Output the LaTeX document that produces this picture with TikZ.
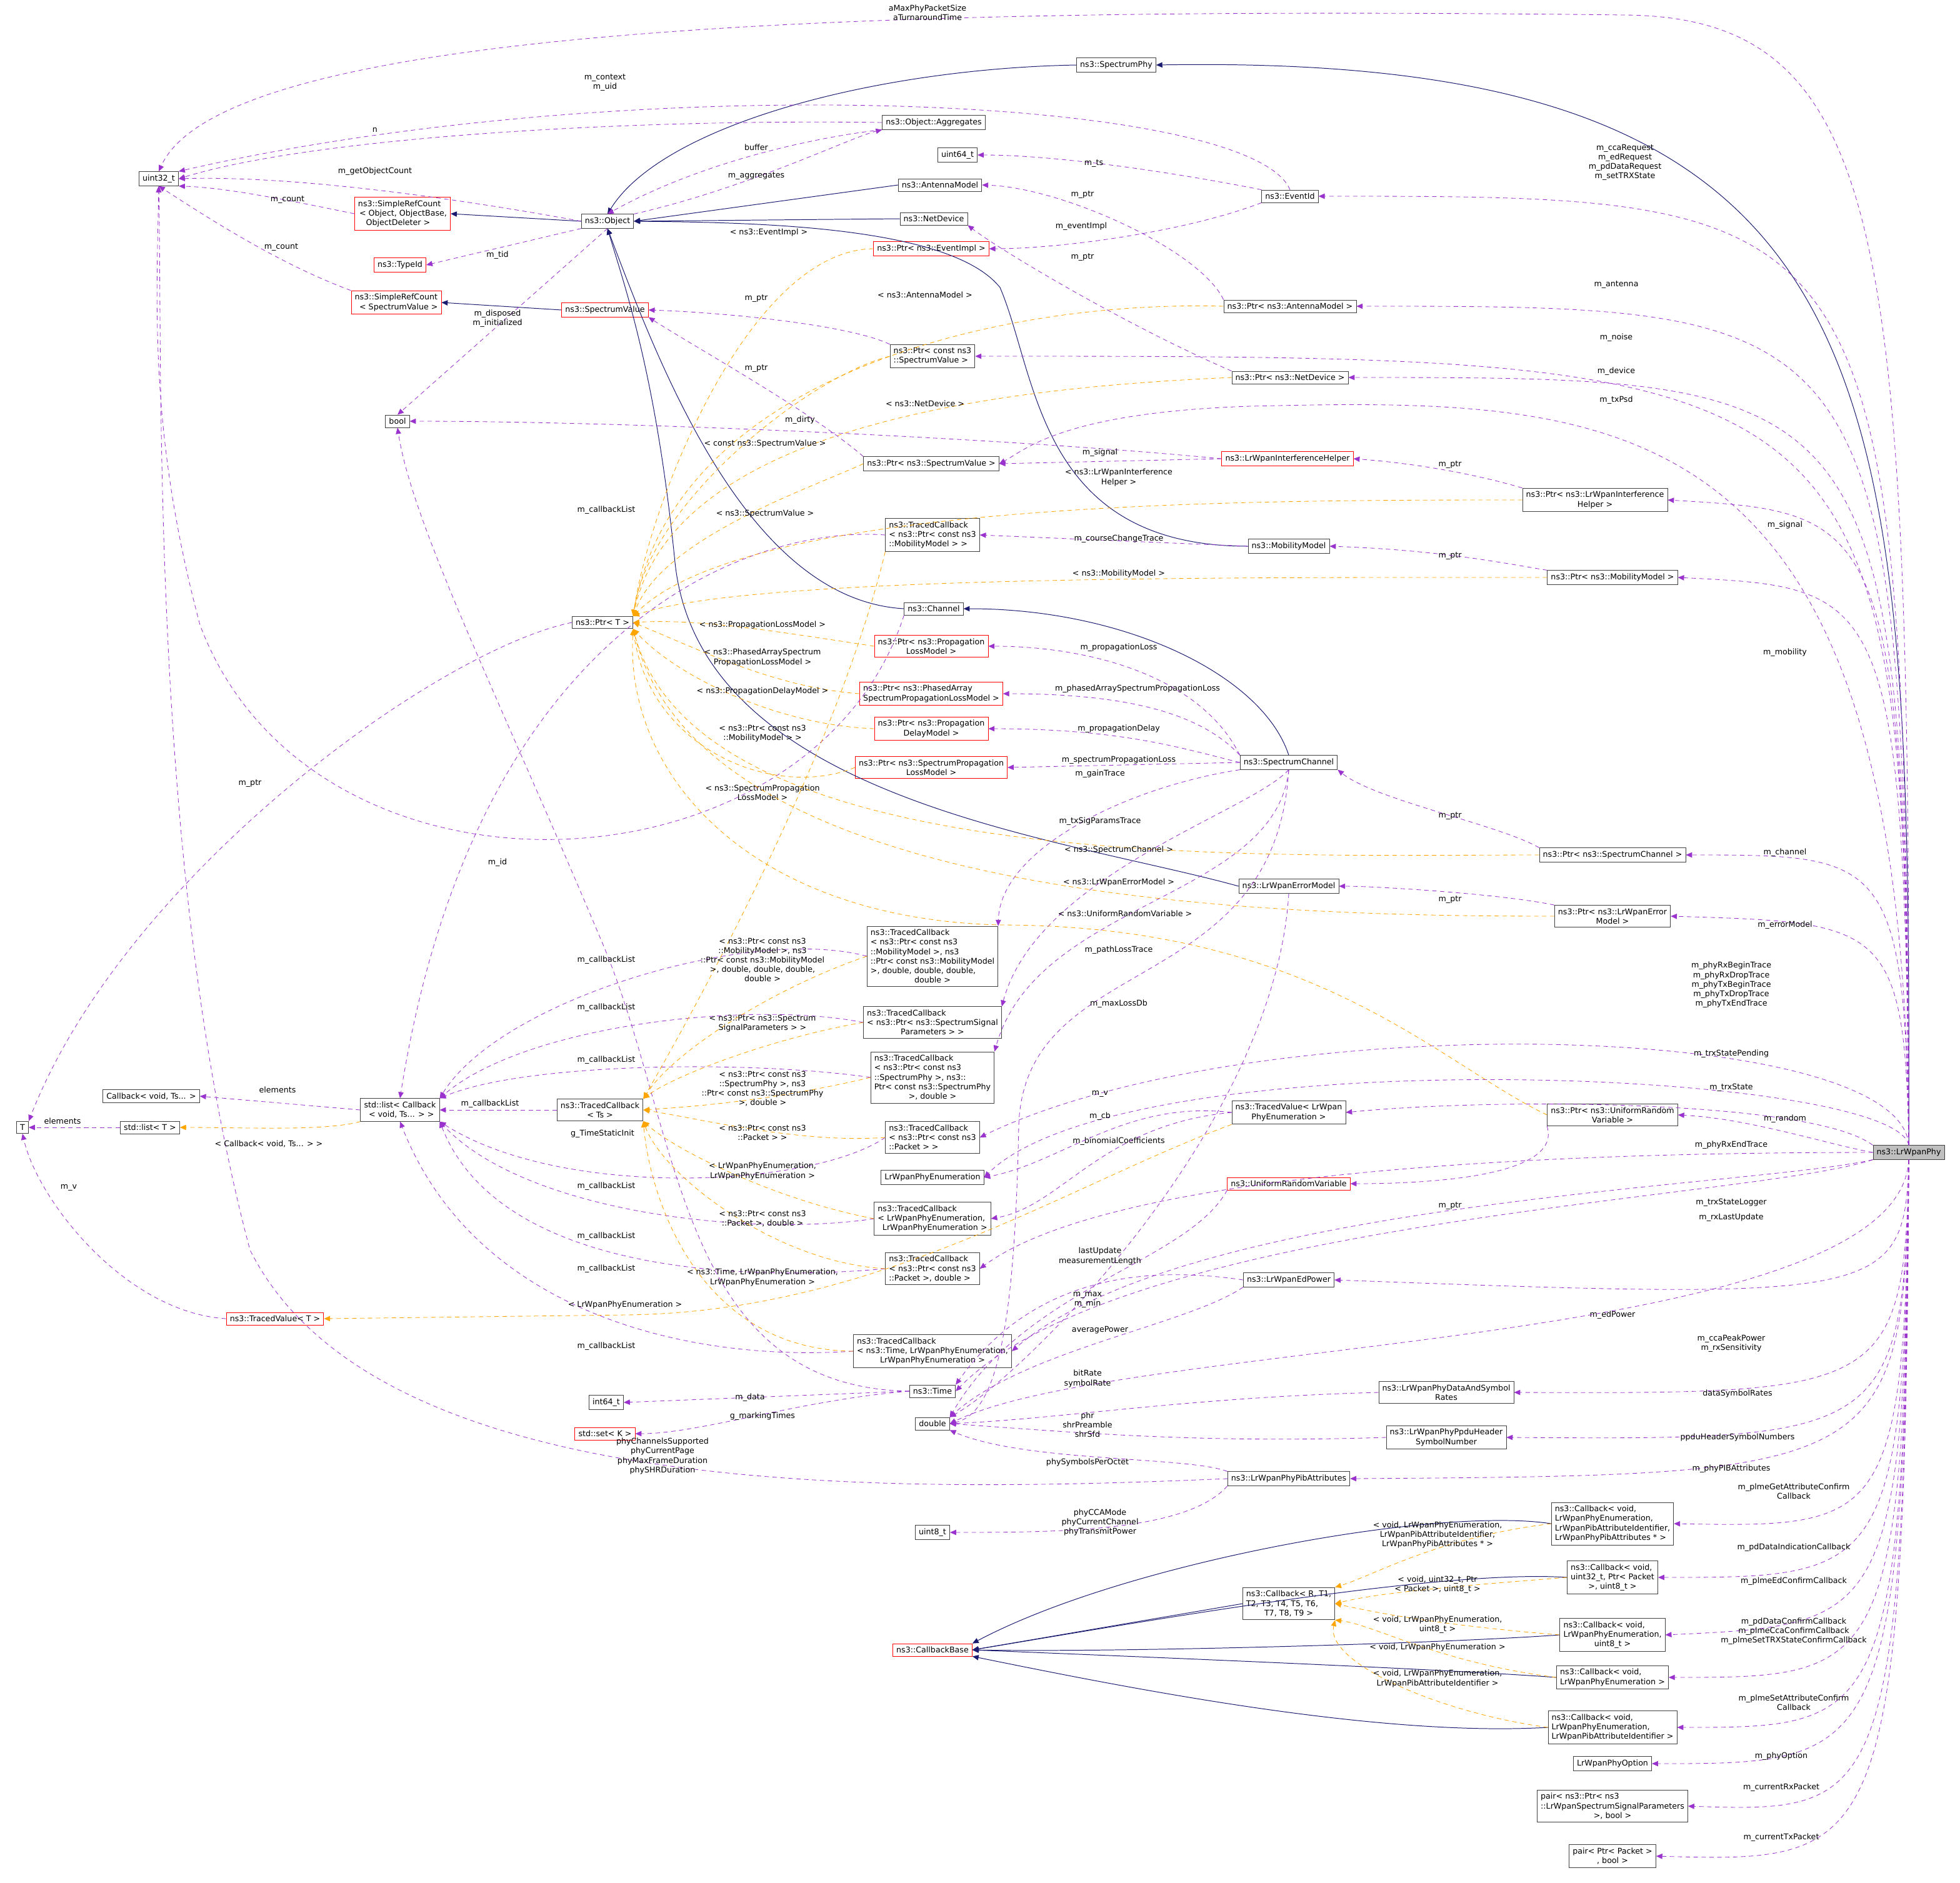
\documentclass[tikz,border=0pt]{standalone}
\usepackage{fontspec}
\setmainfont{DejaVu Sans}
\usetikzlibrary{arrows.meta}
\definecolor{usec}{HTML}{9A32CD}
\definecolor{inhc}{HTML}{191970}
\definecolor{tmpc}{HTML}{FFA500}
\tikzset{
 cls/.style={draw=black!75,fill=white,inner xsep=4pt,inner ysep=3.6pt,align=left,line width=0.6pt},
 rcls/.style={cls,draw=red},
 use/.style={draw=usec,dashed,dash pattern=on 5pt off 4pt,line width=0.6pt,-{Triangle[length=7pt,width=6pt]}},
 inh/.style={draw=inhc,line width=0.7pt,-{Triangle[length=7pt,width=6pt]}},
 tpl/.style={draw=tmpc,dashed,dash pattern=on 5pt off 4pt,line width=0.6pt,-{Triangle[length=7pt,width=6pt]}},
 lbl/.style={align=center,inner sep=0pt}
}
\newcommand\LrUp[4]{\draw[use] (Lr.north) .. controls (1524,#2) and (1505,#2) .. (#1.east) node[lbl] at (#3) {#4};}
\newcommand\LrDn[4]{\draw[use] (Lr.south) .. controls (1524,#2) and (1505,#2) .. (#1.east) node[lbl] at (#3) {#4};}
\begin{document}
\begin{tikzpicture}[x=0.5mm,y=-0.5mm,font=\fontsize{9}{10.8}\selectfont]
\useasboundingbox (0,0) rectangle (1568,1506);
% nodes
\node[cls] (uint32) at (127,143) {uint32\_t};
\node[cls] (SpectrumPhy) at (893,52) {ns3::SpectrumPhy};
\node[cls] (ObjAgg) at (747,98) {ns3::Object::Aggregates};
\node[cls] (uint64) at (766,124) {uint64\_t};
\node[cls] (EventId) at (1032,157) {ns3::EventId};
\node[cls] (AntennaModel) at (752,148) {ns3::AntennaModel};
\node[cls] (Object) at (486,177) {ns3::Object};
\node[cls] (NetDevice) at (747,175) {ns3::NetDevice};
\node[rcls] (SRC1) at (322,171) {ns3::SimpleRefCount\\\,< Object, ObjectBase,\\\quad ObjectDeleter >};
\node[rcls] (TypeId) at (320,212) {ns3::TypeId};
\node[rcls] (PtrEvent) at (745,199) {ns3::Ptr< ns3::EventImpl >};
\node[rcls] (SRC2) at (317,242) {ns3::SimpleRefCount\\\; < SpectrumValue >};
\node[rcls] (SpectrumValue) at (484,248) {ns3::SpectrumValue};
\node[cls] (PtrAntenna) at (1032,245) {ns3::Ptr< ns3::AntennaModel >};
\node[cls] (PtrConstSV) at (746,285) {ns3::Ptr< const ns3\\::SpectrumValue >};
\node[cls] (PtrNetDev) at (1032,302) {ns3::Ptr< ns3::NetDevice >};
\node[cls] (bool) at (318,337) {bool};
\node[cls] (PtrSV) at (745,371) {ns3::Ptr< ns3::SpectrumValue >};
\node[rcls] (LrIH) at (1030,367) {ns3::LrWpanInterferenceHelper};
\node[cls] (PtrLrIH) at (1276,400) {ns3::Ptr< ns3::LrWpanInterference\\\hfil Helper >};
\node[cls] (TCMob) at (746,428) {ns3::TracedCallback\\< ns3::Ptr< const ns3\\::MobilityModel > >};
\node[cls] (MobilityModel) at (1031,437) {ns3::MobilityModel};
\node[cls] (PtrMob) at (1290,462) {ns3::Ptr< ns3::MobilityModel >};
\node[cls] (Channel) at (747,487) {ns3::Channel};
\node[cls] (PtrT) at (482,498) {ns3::Ptr< T >};
\node[rcls] (PtrPLM) at (745,517) {ns3::Ptr< ns3::Propagation\\\hfil LossModel >};
\node[rcls] (PtrPA) at (745,555) {ns3::Ptr< ns3::PhasedArray\\SpectrumPropagationLossModel >};
\node[rcls] (PtrPDM) at (745,583) {ns3::Ptr< ns3::Propagation\\\hfil DelayModel >};
\node[rcls] (PtrSPLM) at (745,614) {ns3::Ptr< ns3::SpectrumPropagation\\\hfil LossModel >};
\node[cls] (SpectrumChannel) at (1031,610) {ns3::SpectrumChannel};
\node[cls] (PtrSC) at (1290,684) {ns3::Ptr< ns3::SpectrumChannel >};
\node[cls] (LrEM) at (1031,709) {ns3::LrWpanErrorModel};
\node[cls] (PtrLrEM) at (1290,733) {ns3::Ptr< ns3::LrWpanError\\\hfil Model >};
\node[cls] (TCMob2) at (746,765) {ns3::TracedCallback\\< ns3::Ptr< const ns3\\::MobilityModel >, ns3\\::Ptr< const ns3::MobilityModel\\ >, double, double, double,\\\hfil double >};
\node[cls] (TCSSP) at (746,818) {ns3::TracedCallback\\< ns3::Ptr< ns3::SpectrumSignal\\\hfil Parameters > >};
\node[cls] (TCSP) at (746,862) {ns3::TracedCallback\\< ns3::Ptr< const ns3\\::SpectrumPhy >, ns3::\\Ptr< const ns3::SpectrumPhy\\\hfil >, double >};
\node[cls] (CallbackVoid) at (121,877) {Callback< void, Ts... >};
\node[cls] (stdlistCb) at (320,888) {std::list< Callback\\\; < void, Ts... > >};
\node[cls] (TCTs) at (480,888) {ns3::TracedCallback\\\hfil < Ts >};
\node[cls] (TCPkt) at (746,910) {ns3::TracedCallback\\< ns3::Ptr< const ns3\\::Packet > >};
\node[cls] (TVLr) at (1031,890) {ns3::TracedValue< LrWpan\\\hfil PhyEnumeration >};
\node[cls] (PtrURV) at (1290,892) {ns3::Ptr< ns3::UniformRandom\\\hfil Variable >};
\node[cls] (T) at (18,902) {T};
\node[cls] (stdlistT) at (120,902) {std::list< T >};
\node[cls] (LrPhyEnum) at (746,942) {LrWpanPhyEnumeration};
\node[rcls] (URV) at (1031,947) {ns3::UniformRandomVariable};
\node[cls,fill=black!25] (Lr) at (1527,922) {ns3::LrWpanPhy};
\node[cls] (TCEnum) at (746,975) {ns3::TracedCallback\\< LrWpanPhyEnumeration,\\\; LrWpanPhyEnumeration >};
\node[cls] (TCPktD) at (746,1015) {ns3::TracedCallback\\< ns3::Ptr< const ns3\\::Packet >, double >};
\node[cls] (LrEdP) at (1031,1024) {ns3::LrWpanEdPower};
\node[rcls] (TVT) at (220,1055) {ns3::TracedValue< T >};
\node[cls] (TCTime) at (746,1081) {ns3::TracedCallback\\< ns3::Time, LrWpanPhyEnumeration,\\\hfil LrWpanPhyEnumeration >};
\node[cls] (Time) at (746,1113) {ns3::Time};
\node[cls] (int64) at (485,1122) {int64\_t};
\node[cls] (double) at (746,1139) {double};
\node[cls] (LrDSR) at (1157,1114) {ns3::LrWpanPhyDataAndSymbol\\\hfil Rates};
\node[rcls] (stdset) at (484,1147) {std::set< K >};
\node[cls] (LrPPH) at (1157,1150) {ns3::LrWpanPhyPpduHeader\\\hfil SymbolNumber};
\node[cls] (LrPib) at (1031,1183) {ns3::LrWpanPhyPibAttributes};
\node[cls] (uint8) at (746,1226) {uint8\_t};
\node[cls] (CbGet) at (1290,1219) {ns3::Callback< void,\\LrWpanPhyEnumeration,\\LrWpanPibAttributeIdentifier,\\LrWpanPhyPibAttributes * >};
\node[cls] (CbPD) at (1290,1262) {ns3::Callback< void,\\uint32\_t, Ptr< Packet\\\hfil >, uint8\_t >};
\node[cls] (CbR) at (1031,1283) {ns3::Callback< R, T1,\\T2, T3, T4, T5, T6,\\\hfil T7, T8, T9 >};
\node[rcls] (CbBase) at (746,1320) {ns3::CallbackBase};
\node[cls] (CbEd) at (1290,1308) {ns3::Callback< void,\\LrWpanPhyEnumeration,\\\hfil uint8\_t >};
\node[cls] (CbE) at (1290,1342) {ns3::Callback< void,\\LrWpanPhyEnumeration >};
\node[cls] (CbSet) at (1290,1382) {ns3::Callback< void,\\LrWpanPhyEnumeration,\\LrWpanPibAttributeIdentifier >};
\node[cls] (LrOpt) at (1290,1411) {LrWpanPhyOption};
\node[cls] (pairSSP) at (1290,1445) {pair< ns3::Ptr< ns3\\::LrWpanSpectrumSignalParameters\\\hfil >, bool >};
\node[cls] (pairPkt) at (1290,1485) {pair< Ptr< Packet >\\\hfil , bool >};

% inheritance
\draw[inh] (Lr.north) .. controls (1528,300) and (1522,42) .. (SpectrumPhy.east);
\draw[inh] (SpectrumPhy.west) .. controls (700,55) and (530,100) .. (Object.north);
\draw[inh] (AntennaModel.west) -- (Object.east);
\draw[inh] (NetDevice.west) -- (Object.east);
\draw[inh] (Object.west) -- (SRC1.east);
\draw[inh] (SpectrumValue.west) -- (SRC2.east);
\draw[inh] (Channel.west) .. controls (600,480) and (530,300) .. (Object.south);
\draw[inh] (MobilityModel.west) .. controls (830,437) and (830,300) .. (800,230) .. controls (760,180) and (600,178) .. (Object.east);
\draw[inh] (SpectrumChannel.north) .. controls (1010,540) and (900,487) .. (Channel.east);
\draw[inh] (LrEM.west) .. controls (850,670) and (560,640) .. (540,450) .. controls (525,300) and (500,230) .. (Object.south);
\draw[inh] (CbGet.west) .. controls (1150,1205) and (900,1250) .. (CbBase.north east);
\draw[inh] (CbPD.west) .. controls (1150,1255) and (900,1300) .. (CbBase.east);
\draw[inh] (CbR.west) -- (CbBase.east);
\draw[inh] (CbEd.west) .. controls (1150,1315) and (900,1322) .. (CbBase.east);
\draw[inh] (CbE.west) .. controls (1150,1335) and (900,1325) .. (CbBase.east);
\draw[inh] (CbSet.west) .. controls (1100,1390) and (900,1350) .. (CbBase.south east);

% usage from LrWpanPhy
\draw[use] (Lr.north) .. controls (1528,200) and (1515,14) .. (1300,12) .. controls (700,5) and (180,20) .. (uint32.north) node[lbl] at (742,10) {aMaxPhyPacketSize\\aTurnaroundTime};
\LrUp{EventId}{157}{1300,130}{m\_ccaRequest\\m\_edRequest\\m\_pdDataRequest\\m\_setTRXState}
\LrUp{PtrAntenna}{245}{1293,228}{m\_antenna}
\LrUp{PtrConstSV}{285}{1293,270}{m\_noise}
\LrUp{PtrNetDev}{302}{1293,297}{m\_device}
\draw[use] (Lr.north) .. controls (1524,320) and (1300,318) .. (1000,325) .. controls (850,330) and (820,360) .. (PtrSV.east) node[lbl] at (1293,320) {m\_txPsd};
\LrUp{PtrLrIH}{410}{1428,420}{m\_signal}
\LrUp{PtrMob}{470}{1428,522}{m\_mobility}
\LrUp{PtrSC}{684}{1428,682}{m\_channel}
\LrUp{PtrLrEM}{738}{1428,740}{m\_errorModel}
\draw[use] (Lr.north) .. controls (1520,815) and (1000,805) .. (TCPkt.east) node[lbl] at (1385,788) {m\_phyRxBeginTrace\\m\_phyRxDropTrace\\m\_phyTxBeginTrace\\m\_phyTxDropTrace\\m\_phyTxEndTrace};
\draw[use] (Lr.north) .. controls (1515,855) and (900,830) .. (LrPhyEnum.east) node[lbl] at (1385,843) {m\_trxStatePending};
\draw[use] (Lr.north west) .. controls (1450,880) and (1200,878) .. (TVLr.east) node[lbl] at (1385,870) {m\_trxState};
\draw[use] (Lr.west) .. controls (1460,915) and (1400,895) .. (PtrURV.east) node[lbl] at (1428,895) {m\_random};
\draw[use] (Lr.west) .. controls (1300,922) and (900,930) .. (TCPktD.east) node[lbl] at (1385,916) {m\_phyRxEndTrace};
\draw[use] (Lr.south west) .. controls (1400,950) and (950,960) .. (TCTime.east) node[lbl] at (1385,962) {m\_trxStateLogger};
\draw[use] (Lr.south west) .. controls (1400,960) and (900,975) .. (Time.east) node[lbl] at (1385,974) {m\_rxLastUpdate};
\LrDn{LrEdP}{1040}{1290,1052}{m\_edPower}
\draw[use] (Lr.south) .. controls (1520,1080) and (900,1070) .. (double.east) node[lbl] at (1385,1075) {m\_ccaPeakPower\\m\_rxSensitivity};
\LrDn{LrDSR}{1115}{1390,1115}{dataSymbolRates}
\LrDn{LrPPH}{1152}{1390,1150}{ppduHeaderSymbolNumbers}
\LrDn{LrPib}{1180}{1385,1175}{m\_phyPIBAttributes}
\LrDn{CbGet}{1222}{1435,1193}{m\_plmeGetAttributeConfirm\\Callback}
\LrDn{CbPD}{1262}{1435,1238}{m\_pdDataIndicationCallback}
\LrDn{CbEd}{1300}{1435,1265}{m\_plmeEdConfirmCallback}
\LrDn{CbE}{1342}{1435,1305}{m\_pdDataConfirmCallback\\m\_plmeCcaConfirmCallback\\m\_plmeSetTRXStateConfirmCallback}
\LrDn{CbSet}{1382}{1435,1362}{m\_plmeSetAttributeConfirm\\Callback}
\LrDn{LrOpt}{1411}{1425,1405}{m\_phyOption}
\LrDn{pairSSP}{1450}{1425,1430}{m\_currentRxPacket}
\LrDn{pairPkt}{1490}{1425,1470}{m\_currentTxPacket}

% other usage
\draw[use] (Object.west) .. controls (400,165) and (250,140) .. (uint32.east) node[lbl] at (300,137) {m\_getObjectCount};
\draw[use] (SRC1.west) .. controls (230,160) and (180,150) .. (uint32.south east) node[lbl] at (230,160) {m\_count};
\draw[use] (SRC2.north west) .. controls (220,210) and (160,170) .. (uint32.south) node[lbl] at (225,198) {m\_count};
\draw[use] (Object.south west) -- (TypeId.east) node[lbl] at (398,204) {m\_tid};
\draw[use] (Object.south) -- (bool.north) node[lbl] at (398,255) {m\_disposed\\m\_initialized};
\draw[use] (ObjAgg.west) .. controls (500,95) and (250,110) .. (uint32.east) node[lbl] at (300,104) {n};
\draw[use] (EventId.north) .. controls (1000,75) and (500,55) .. (uint32.north east) node[lbl] at (484,66) {m\_context\\m\_uid};
\draw[use] (Object.north east) .. controls (600,150) and (680,110) .. (ObjAgg.south west) node[lbl] at (605,141) {m\_aggregates};
\draw[use] (ObjAgg.south west) .. controls (650,110) and (560,130) .. (Object.north) node[lbl] at (605,118) {buffer};
\draw[use] (EventId.north west) .. controls (950,140) and (850,124) .. (uint64.east) node[lbl] at (875,131) {m\_ts};
\draw[use] (EventId.south west) .. controls (950,185) and (850,199) .. (PtrEvent.east) node[lbl] at (865,181) {m\_eventImpl};
\draw[use] (PtrAntenna.north west) .. controls (960,200) and (850,150) .. (AntennaModel.east) node[lbl] at (866,156) {m\_ptr};
\draw[use] (PtrNetDev.north west) .. controls (900,260) and (800,200) .. (NetDevice.south east) node[lbl] at (866,206) {m\_ptr};
\draw[use] (PtrConstSV.north west) .. controls (680,260) and (580,250) .. (SpectrumValue.east) node[lbl] at (605,239) {m\_ptr};
\draw[use] (PtrSV.north west) .. controls (650,330) and (560,280) .. (SpectrumValue.south east) node[lbl] at (605,295) {m\_ptr};
\draw[use] (LrIH.west) .. controls (800,350) and (500,337) .. (bool.east) node[lbl] at (640,336) {m\_dirty};
\draw[use] (LrIH.west) -- (PtrSV.east) node[lbl] at (880,362) {m\_signal};
\draw[use] (PtrLrIH.north west) .. controls (1200,385) and (1150,372) .. (LrIH.east) node[lbl] at (1160,372) {m\_ptr};
\draw[use] (MobilityModel.west) -- (TCMob.east) node[lbl] at (895,431) {m\_courseChangeTrace};
\draw[use] (PtrMob.north west) .. controls (1200,450) and (1150,440) .. (MobilityModel.east) node[lbl] at (1160,445) {m\_ptr};
\draw[use] (SpectrumChannel.north west) .. controls (960,540) and (870,517) .. (PtrPLM.east) node[lbl] at (895,518) {m\_propagationLoss};
\draw[use] (SpectrumChannel.north west) .. controls (960,570) and (900,555) .. (PtrPA.east) node[lbl] at (910,551) {m\_phasedArraySpectrumPropagationLoss};
\draw[use] (SpectrumChannel.west) .. controls (950,600) and (900,583) .. (PtrPDM.east) node[lbl] at (895,583) {m\_propagationDelay};
\draw[use] (SpectrumChannel.west) -- (PtrSPLM.east) node[lbl] at (895,608) {m\_spectrumPropagationLoss};
\draw[use] (SpectrumChannel.south west) .. controls (900,630) and (800,680) .. (TCMob2.north east) node[lbl] at (880,619) {m\_gainTrace};
\draw[use] (SpectrumChannel.south) .. controls (1000,650) and (830,700) .. (TCSSP.north east) node[lbl] at (880,657) {m\_txSigParamsTrace};
\draw[use] (SpectrumChannel.south) .. controls (1020,720) and (830,720) .. (TCSP.north east) node[lbl] at (895,760) {m\_pathLossTrace};
\draw[use] (SpectrumChannel.south) .. controls (1020,800) and (820,760) .. (815,900) .. controls (812,1050) and (800,1130) .. (double.east) node[lbl] at (895,803) {m\_maxLossDb};
\draw[use] (PtrSC.north west) .. controls (1200,660) and (1100,640) .. (SpectrumChannel.south east) node[lbl] at (1160,653) {m\_ptr};
\draw[use] (PtrLrEM.north west) .. controls (1200,715) and (1100,709) .. (LrEM.east) node[lbl] at (1160,720) {m\_ptr};
\draw[use] (LrEM.south) .. controls (1020,900) and (820,1100) .. (double.north east) node[lbl] at (895,913) {m\_binomialCoefficients};
\draw[use] (TVLr.west) .. controls (900,880) and (850,930) .. (LrPhyEnum.east) node[lbl] at (880,875) {m\_v};
\draw[use] (TVLr.west) .. controls (880,900) and (850,965) .. (TCEnum.east) node[lbl] at (880,893) {m\_cb};
\draw[use] (PtrURV.south west) .. controls (1250,940) and (1150,947) .. (URV.east) node[lbl] at (1160,965) {m\_ptr};
\draw[use] (URV.south west) .. controls (950,1010) and (820,1030) .. (double.north east) node[lbl] at (870,1040) {m\_max\\m\_min};
\draw[use] (LrEdP.west) .. controls (900,1010) and (820,1030) .. (Time.north east) node[lbl] at (880,1005) {lastUpdate\\measurementLength};
\draw[use] (LrEdP.south west) .. controls (950,1060) and (820,1080) .. (double.north east) node[lbl] at (880,1064) {averagePower};
\draw[use] (LrDSR.west) .. controls (950,1118) and (850,1135) .. (double.east) node[lbl] at (870,1103) {bitRate\\symbolRate};
\draw[use] (LrPPH.west) .. controls (950,1155) and (850,1145) .. (double.east) node[lbl] at (870,1140) {phr\\shrPreamble\\shrSfd};
\draw[use] (LrPib.north west) .. controls (950,1165) and (820,1170) .. (double.south east) node[lbl] at (870,1170) {phySymbolsPerOctet};
\draw[use] (LrPib.south west) .. controls (950,1225) and (850,1226) .. (uint8.east) node[lbl] at (880,1218) {phyCCAMode\\phyCurrentChannel\\phyTransmitPower};
\draw[use] (LrPib.west) .. controls (700,1195) and (300,1200) .. (200,1000) .. controls (120,700) and (130,300) .. (uint32.south) node[lbl] at (530,1165) {phyChannelsSupported\\phyCurrentPage\\phyMaxFrameDuration\\phySHRDuration};
\draw[use] (Channel.south west) .. controls (650,720) and (250,740) .. (160,500) .. controls (120,350) and (125,250) .. (uint32.south) node[lbl] at (398,690) {m\_id};
\draw[use] (Time.west) -- (int64.east) node[lbl] at (600,1118) {m\_data};
\draw[use] (Time.west) .. controls (640,1120) and (560,1147) .. (stdset.east) node[lbl] at (610,1133) {g\_markingTimes};
\draw[use] (Time.west) .. controls (540,1110) and (545,900) .. (480,750) .. controls (400,560) and (330,420) .. (bool.south) node[lbl] at (482,907) {g\_TimeStaticInit};
\draw[use] (stdlistCb.west) -- (CallbackVoid.east) node[lbl] at (222,872) {elements};
\draw[use] (stdlistT.west) -- (T.east) node[lbl] at (50,897) {elements};
\draw[use] (TVT.west) .. controls (100,1050) and (30,960) .. (T.south) node[lbl] at (55,950) {m\_v};
\draw[use] (PtrT.west) .. controls (350,520) and (100,700) .. (T.north east) node[lbl] at (200,627) {m\_ptr};
\draw[use] (TCTs.west) -- (stdlistCb.east) node[lbl] at (392,883) {m\_callbackList};
\draw[use] (TCMob.west) .. controls (600,420) and (380,500) .. (stdlistCb.north) node[lbl] at (485,408) {m\_callbackList};
\draw[use] (TCMob2.west) .. controls (600,740) and (400,800) .. (stdlistCb.north east) node[lbl] at (485,768) {m\_callbackList};
\draw[use] (TCSSP.west) .. controls (600,800) and (420,820) .. (stdlistCb.north east) node[lbl] at (485,806) {m\_callbackList};
\draw[use] (TCSP.west) .. controls (600,848) and (420,850) .. (stdlistCb.north east) node[lbl] at (485,848) {m\_callbackList};
\draw[use] (TCPkt.west) .. controls (650,950) and (450,960) .. (stdlistCb.south east) node[lbl] at (485,949) {m\_callbackList};
\draw[use] (TCEnum.west) .. controls (600,990) and (420,970) .. (stdlistCb.south east) node[lbl] at (485,989) {m\_callbackList};
\draw[use] (TCPktD.west) .. controls (600,1025) and (400,1020) .. (stdlistCb.south east) node[lbl] at (485,1015) {m\_callbackList};
\draw[use] (TCTime.west) .. controls (550,1090) and (380,1050) .. (stdlistCb.south) node[lbl] at (485,1077) {m\_callbackList};

% template instantiation
\draw[tpl] (PtrEvent.west) .. controls (600,200) and (520,400) .. (PtrT.north east) node[lbl] at (615,186) {< ns3::EventImpl >};
\draw[tpl] (PtrAntenna.west) .. controls (800,240) and (540,300) .. (PtrT.north east) node[lbl] at (740,236) {< ns3::AntennaModel >};
\draw[tpl] (PtrNetDev.west) .. controls (800,310) and (540,340) .. (PtrT.north east) node[lbl] at (740,323) {< ns3::NetDevice >};
\draw[tpl] (PtrConstSV.west) .. controls (650,300) and (520,400) .. (PtrT.north east) node[lbl] at (612,355) {< const ns3::SpectrumValue >};
\draw[tpl] (PtrSV.west) .. controls (650,390) and (530,430) .. (PtrT.north east) node[lbl] at (612,411) {< ns3::SpectrumValue >};
\draw[tpl] (PtrLrIH.west) .. controls (1000,400) and (600,400) .. (PtrT.north east) node[lbl] at (895,382) {< ns3::LrWpanInterference\\Helper >};
\draw[tpl] (PtrMob.west) .. controls (1000,462) and (600,460) .. (PtrT.north east) node[lbl] at (895,459) {< ns3::MobilityModel >};
\draw[tpl] (PtrPLM.west) .. controls (620,505) and (560,495) .. (PtrT.east) node[lbl] at (610,500) {< ns3::PropagationLossModel >};
\draw[tpl] (PtrPA.west) .. controls (620,550) and (560,520) .. (PtrT.east) node[lbl] at (610,526) {< ns3::PhasedArraySpectrum\\PropagationLossModel >};
\draw[tpl] (PtrPDM.west) .. controls (620,580) and (540,540) .. (PtrT.south east) node[lbl] at (610,553) {< ns3::PropagationDelayModel >};
\draw[tpl] (PtrSPLM.west) .. controls (620,640) and (520,600) .. (PtrT.south east) node[lbl] at (610,634) {< ns3::SpectrumPropagation\\LossModel >};
\draw[tpl] (PtrSC.west) .. controls (1000,684) and (560,700) .. (PtrT.south east) node[lbl] at (895,680) {< ns3::SpectrumChannel >};
\draw[tpl] (PtrLrEM.west) .. controls (1000,733) and (560,720) .. (PtrT.south east) node[lbl] at (895,706) {< ns3::LrWpanErrorModel >};
\draw[tpl] (PtrURV.west) .. controls (1150,850) and (1050,740) .. (800,740) .. controls (600,735) and (500,620) .. (PtrT.south east) node[lbl] at (900,731) {< ns3::UniformRandomVariable >};
\draw[tpl] (TCMob.south west) .. controls (670,600) and (560,800) .. (TCTs.north east) node[lbl] at (610,587) {< ns3::Ptr< const ns3\\::MobilityModel > >};
\draw[tpl] (TCMob2.west) .. controls (620,790) and (540,840) .. (TCTs.north east) node[lbl] at (610,768) {< ns3::Ptr< const ns3\\::MobilityModel >, ns3\\::Ptr< const ns3::MobilityModel\\>, double, double, double,\\double >};
\draw[tpl] (TCSSP.west) .. controls (620,830) and (540,860) .. (TCTs.north east) node[lbl] at (610,819) {< ns3::Ptr< ns3::Spectrum\\SignalParameters > >};
\draw[tpl] (TCSP.west) .. controls (620,880) and (560,885) .. (TCTs.east) node[lbl] at (610,871) {< ns3::Ptr< const ns3\\::SpectrumPhy >, ns3\\::Ptr< const ns3::SpectrumPhy\\>, double >};
\draw[tpl] (TCPkt.west) .. controls (640,915) and (560,895) .. (TCTs.east) node[lbl] at (610,906) {< ns3::Ptr< const ns3\\::Packet > >};
\draw[tpl] (TCEnum.west) .. controls (620,960) and (540,920) .. (TCTs.south east) node[lbl] at (610,937) {< LrWpanPhyEnumeration,\\LrWpanPhyEnumeration >};
\draw[tpl] (TCPktD.west) .. controls (620,1010) and (530,940) .. (TCTs.south east) node[lbl] at (610,975) {< ns3::Ptr< const ns3\\::Packet >, double >};
\draw[tpl] (TCTime.west) .. controls (560,1080) and (520,960) .. (TCTs.south east) node[lbl] at (610,1022) {< ns3::Time, LrWpanPhyEnumeration,\\LrWpanPhyEnumeration >};
\draw[tpl] (stdlistCb.south west) .. controls (260,905) and (200,902) .. (stdlistT.east) node[lbl] at (215,915) {< Callback< void, Ts... > >};
\draw[tpl] (TVLr.south west) .. controls (850,950) and (700,1050) .. (500,1052) -- (TVT.east) node[lbl] at (500,1044) {< LrWpanPhyEnumeration >};
\draw[tpl] (CbGet.west) .. controls (1150,1230) and (1100,1260) .. (CbR.north east) node[lbl] at (1150,1228) {< void, LrWpanPhyEnumeration,\\LrWpanPibAttributeIdentifier,\\LrWpanPhyPibAttributes * >};
\draw[tpl] (CbPD.west) .. controls (1150,1270) and (1100,1275) .. (CbR.east) node[lbl] at (1150,1268) {< void, uint32\_t, Ptr\\< Packet >, uint8\_t >};
\draw[tpl] (CbEd.west) .. controls (1150,1300) and (1100,1290) .. (CbR.east) node[lbl] at (1150,1300) {< void, LrWpanPhyEnumeration,\\uint8\_t >};
\draw[tpl] (CbE.west) .. controls (1150,1330) and (1100,1300) .. (CbR.south east) node[lbl] at (1150,1318) {< void, LrWpanPhyEnumeration >};
\draw[tpl] (CbSet.west) .. controls (1150,1370) and (1060,1330) .. (CbR.south east) node[lbl] at (1150,1343) {< void, LrWpanPhyEnumeration,\\LrWpanPibAttributeIdentifier >};
\end{tikzpicture}
\end{document}
